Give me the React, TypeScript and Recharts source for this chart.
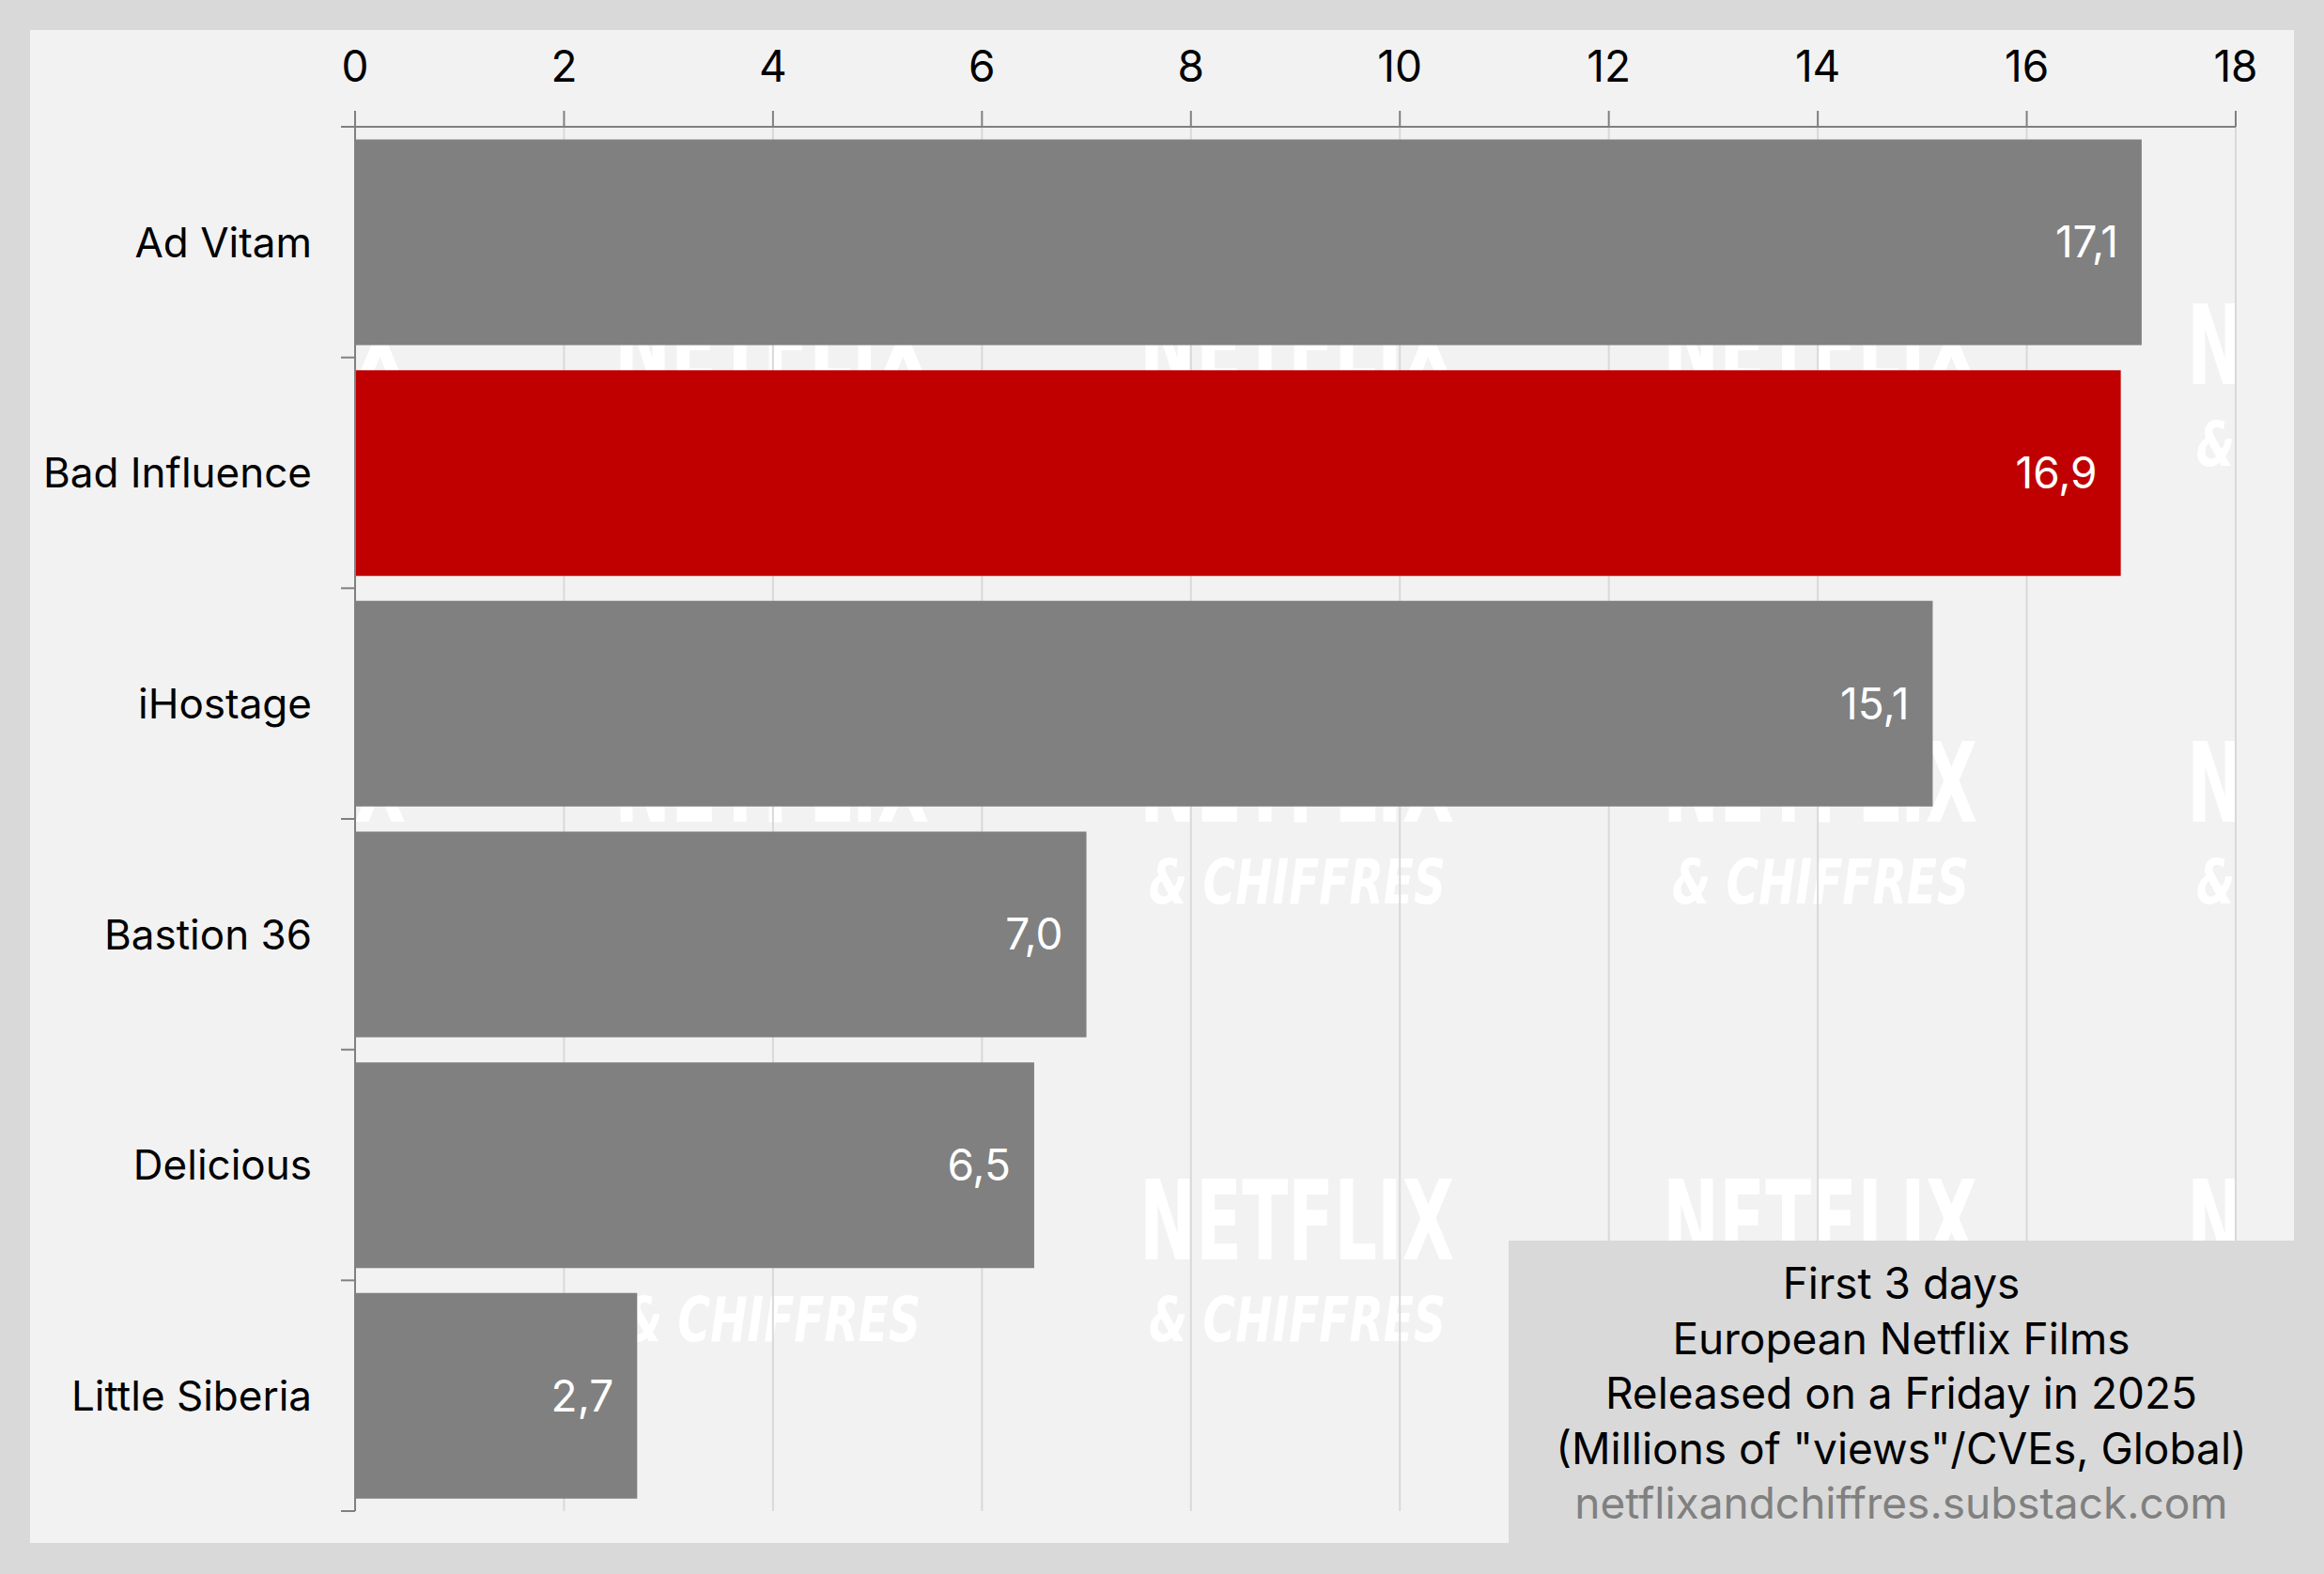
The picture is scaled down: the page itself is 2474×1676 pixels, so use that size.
import React from "react";
import { Bar, BarChart, CartesianGrid, Cell, LabelList, XAxis, YAxis } from "recharts";

const categories = ["Ad Vitam", "Bad Influence", "iHostage", "Bastion 36", "Delicious", "Little Siberia"];
const views = [17.1, 16.9, 15.1, 7.0, 6.5, 2.7];
const highlighted = ["Bad Influence"];
const xTicks = [0, 2, 4, 6, 8, 10, 12, 14, 16, 18];
const noteLines = ["First 3 days", "European Netflix Films", "Released on a Friday in 2025", '(Millions of "views"/CVEs, Global)'];
const sourceLine = "netflixandchiffres.substack.com";
const watermarkCols = [265, 822, 1381, 1938, 2496];
const watermarkRows = [-57, 409, 875, 1341];

const W = 2474;
const H = 1676;
const FONT = "Inter, 'Noto Sans', sans-serif";
const PLOT = { left: 378, right: 2380, top: 135, bottom: 1609 };
const BAND = (PLOT.bottom - PLOT.top) / categories.length;
const AXIS = "#808080";

const data = categories.map((name, i) => ({ name, views: views[i] }));

function CategoryTick(props: any) {
  const { x, y, payload, index, visibleTicksCount } = props;
  const last = index === visibleTicksCount - 1;
  return (
    <g>
      <text x={x} y={y} dy="0.36em" textAnchor="end" fontSize={44} fontFamily={FONT} fill="#000">
        {payload.value}
      </text>
      <line x1={PLOT.left - 15} x2={PLOT.left} y1={y - BAND / 2} y2={y - BAND / 2} stroke={AXIS} strokeWidth={2} />
      {last && (
        <line x1={PLOT.left - 15} x2={PLOT.left} y1={y + BAND / 2} y2={y + BAND / 2} stroke={AXIS} strokeWidth={2} />
      )}
    </g>
  );
}

function Watermark() {
  return (
    <svg width={W} height={H} style={{ position: "absolute", left: 0, top: 0 }}>
      <defs>
        <clipPath id="plotclip">
          <rect x={PLOT.left} y={PLOT.top} width={PLOT.right - PLOT.left} height={PLOT.bottom - PLOT.top} />
        </clipPath>
      </defs>
      <g clipPath="url(#plotclip)" fill="#ffffff" fontFamily="'DejaVu Sans', sans-serif" fontWeight="bold">
        {watermarkRows.map((ry) =>
          watermarkCols.map((cx) => (
            <g key={`${ry}-${cx}`}>
              <text x={cx - 168} y={ry} fontSize={118} textLength={335} lengthAdjust="spacingAndGlyphs">
                NETFLIX
              </text>
              <text
                x={cx - 158}
                y={ry + 87}
                fontSize={66}
                fontStyle="italic"
                textLength={316}
                lengthAdjust="spacingAndGlyphs"
              >
                &amp; CHIFFRES
              </text>
            </g>
          ))
        )}
      </g>
    </svg>
  );
}

export default function App() {
  return (
    <div style={{ position: "absolute", left: 0, top: 0, width: W, height: H, background: "#d9d9d9", fontFamily: FONT }}>
      <div style={{ position: "absolute", left: 32, top: 32, width: 2410, height: 1611, background: "#f2f2f2" }} />
      <Watermark />
      <div style={{ position: "absolute", left: 0, top: 0 }}>
        <BarChart
          width={W}
          height={H}
          data={data}
          layout="vertical"
          barCategoryGap="5.5%"
          margin={{ top: 32, right: W - PLOT.right, bottom: H - PLOT.bottom, left: 32 }}
        >
          <CartesianGrid horizontal={false} stroke="#d9d9d9" strokeWidth={2} />
          <XAxis
            type="number"
            orientation="top"
            domain={[0, 18]}
            ticks={xTicks}
            height={103}
            tickSize={17}
            tickMargin={31}
            axisLine={{ stroke: AXIS, strokeWidth: 2 }}
            tickLine={{ stroke: AXIS, strokeWidth: 2 }}
            tick={{ fill: "#000", fontSize: 46, fontFamily: FONT }}
            interval={0}
          />
          <YAxis
            type="category"
            dataKey="name"
            width={346}
            tickSize={15}
            tickMargin={31}
            tickLine={false}
            axisLine={{ stroke: AXIS, strokeWidth: 2 }}
            tick={<CategoryTick />}
            interval={0}
          />
          <Bar dataKey="views" isAnimationActive={false}>
            {data.map((d) => (
              <Cell key={d.name} fill={highlighted.includes(d.name) ? "#c00000" : "#808080"} />
            ))}
            <LabelList
              dataKey="views"
              position="insideRight"
              offset={25}
              fill="#ffffff"
              fontSize={46}
              fontFamily={FONT}
              formatter={(v: any) => Number(v).toFixed(1).replace(".", ",")}
            />
          </Bar>
        </BarChart>
      </div>
      <div
        style={{
          position: "absolute",
          left: 1606,
          top: 1321,
          width: 836,
          height: 322,
          background: "#d9d9d9",
          boxSizing: "border-box",
          paddingTop: 16,
          textAlign: "center",
          fontSize: 46,
          lineHeight: "58.5px",
          color: "#000",
        }}
      >
        {noteLines.map((l) => (
          <div key={l}>{l}</div>
        ))}
        <div style={{ color: "#808080" }}>{sourceLine}</div>
      </div>
    </div>
  );
}
